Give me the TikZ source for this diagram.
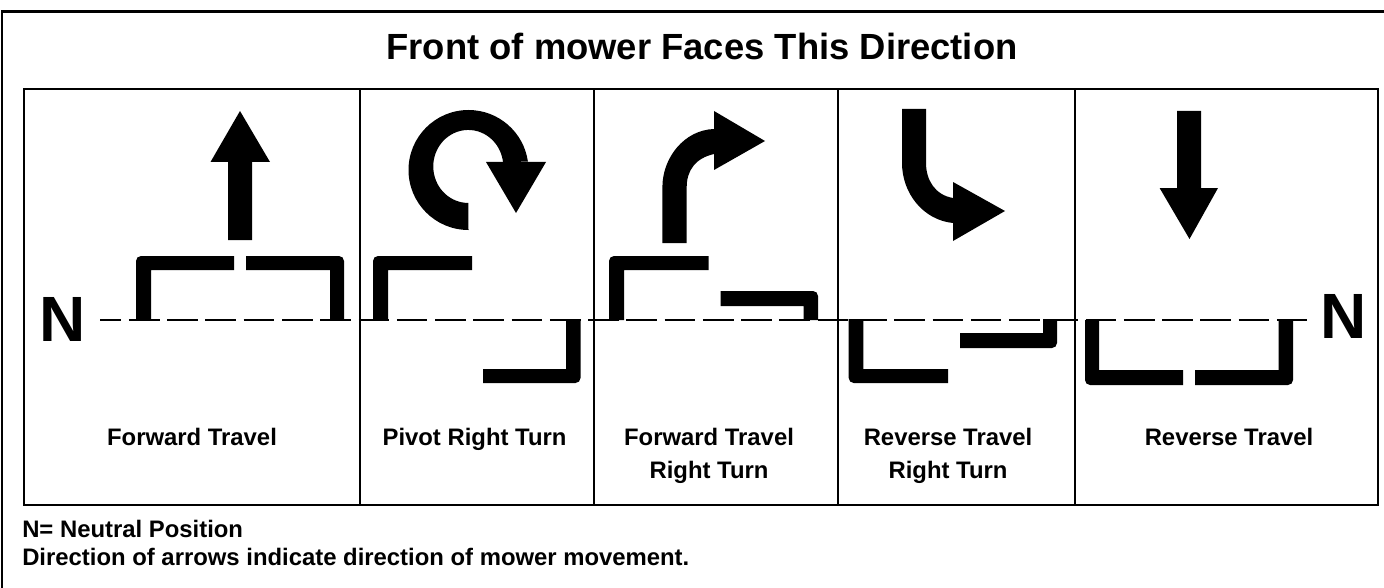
\documentclass[tikz,border=0pt]{standalone}
\usepackage{fontspec}
\setmainfont{Liberation Sans}[BoldFont={Liberation Sans Bold}]
\tikzset{
  frameline/.style={draw=black,line width=1.9pt},
  tableline/.style={draw=black,line width=1.7pt},
  cellline/.style={draw=black,line width=1.5pt},
  solid shape/.style={fill=black,draw=none},
  dashline/.style={draw=black,line width=1.5pt,dash pattern=on 23pt off 5.7pt,dash phase=7pt},
  tlabel/.style={font=\bfseries\fontsize{17.9pt}{24.75pt}\selectfont,align=center,anchor=base,inner sep=0pt},
  note/.style={font=\bfseries\fontsize{17.9pt}{21pt}\selectfont,anchor=base west,inner sep=0pt},
}
\newcommand{\brTL}[6]{% outer x, inner x, end x, outer y, inner y, far y (top-left corner)
  \fill[solid shape] (#1,#6) -- (#1,#4+5) arc[start angle=180,end angle=270,radius=5] -- (#3,#4) -- (#3,#5) -- (#2,#5) -- (#2,#6) -- cycle;}
\newcommand{\brTR}[6]{% corner top right
  \fill[solid shape] (#1,#6) -- (#1,#4+5) arc[start angle=0,end angle=-90,radius=5] -- (#3,#4) -- (#3,#5) -- (#2,#5) -- (#2,#6) -- cycle;}
\newcommand{\brBL}[6]{% corner bottom left
  \fill[solid shape] (#1,#6) -- (#1,#4-5) arc[start angle=180,end angle=90,radius=5] -- (#3,#4) -- (#3,#5) -- (#2,#5) -- (#2,#6) -- cycle;}
\newcommand{\brBR}[6]{% corner bottom right
  \fill[solid shape] (#1,#6) -- (#1,#4-5) arc[start angle=0,end angle=90,radius=5] -- (#3,#4) -- (#3,#5) -- (#2,#5) -- (#2,#6) -- cycle;}
\begin{document}
\begin{tikzpicture}[x=0.75pt,y=-0.75pt]
\useasboundingbox (0,0) rectangle (1384,588);
% frames
\draw[frameline] (2,588) -- (2,11.3) -- (1384,11.3);
\draw[tableline] (24,89) rectangle (1378,505);
\foreach \xx in {359.5,594,837.5,1074.5}{\draw[cellline] (\xx,89) -- (\xx,505);}
% title
\node[font=\bfseries\fontsize{27.3pt}{30pt}\selectfont,anchor=base,inner sep=0pt] (title) at (702,60) {Front of mower Faces This Direction};
% dashed neutral line
\coordinate (dashL) at (100,320);
\coordinate (dashR) at (1306.5,320);
\draw[dashline] (dashL) -- (dashR);
% N
\node[font=\bfseries\fontsize{48pt}{48pt}\selectfont,anchor=base,inner sep=0pt] (nl) at (62.5,341) {N};
\node[font=\bfseries\fontsize{48pt}{48pt}\selectfont,anchor=base,inner sep=0pt] (nr) at (1343.5,338) {N};
% Forward Travel
\fill[solid shape] (240,111) -- (270,162) -- (252,162) -- (252,240) -- (228,240) -- (228,162) -- (210.5,162) -- cycle;
\brTL{136}{151}{234}{256}{270}{320}
\brTR{344}{330}{246}{256}{270}{320}
% Pivot
\fill[solid shape] (468.5,230) arc[start angle=90,end angle=352,radius=60] -- (503,162) arc[start angle=353,end angle=90,x radius=35,y radius=36.5] -- cycle;
\fill[solid shape] (486,162) -- (546,162) -- (516,213) -- cycle;
\brTL{373}{388}{472}{256}{270}{320}
\brBR{580.5}{566}{483}{383}{369}{319}
% Forward right
\fill[solid shape] (662.4,243) -- (662.4,187) .. controls (662.4,158) and (684,130) .. (714,129) -- (714,111) -- (765,141) -- (714,170) -- (714,154) .. controls (696,158) and (686.7,170) .. (686.7,187) -- (686.7,243) -- cycle;
\brTL{609}{624}{708.5}{256}{270}{320}
\brTR{818}{803.7}{720.6}{291}{306}{320}
% Reverse right
\fill[solid shape] (902,109) -- (902,163) .. controls (902,193) and (923,220) .. (953,223) -- (953,241) -- (1005,211) -- (953,182) -- (953,198) .. controls (935,195) and (926,180) .. (926,163) -- (926,109) -- cycle;
\brBL{848.7}{863.4}{948}{383}{369}{319}
\brBR{1057}{1043}{960}{348}{333}{319}
% Reverse
\fill[solid shape] (1189.5,239) -- (1218,188) -- (1201,188) -- (1201,111) -- (1177,111) -- (1177,188) -- (1159.6,188) -- cycle;
\brBL{1085}{1099}{1183}{385}{370}{320}
\brBR{1293}{1278.6}{1195}{385}{370}{320}
% labels
\node[tlabel] (l1) at (192,445) {Forward Travel};
\node[tlabel] (l2) at (474.5,445) {Pivot Right Turn};
\node[tlabel] (l3) at (709,478) {Forward Travel\\Right Turn};
\node[tlabel] (l4) at (948,478) {Reverse Travel\\Right Turn};
\node[tlabel] (l5) at (1229,445) {Reverse Travel};
\node[note] (n1) at (22,537) {N= Neutral Position};
\node[note] (n2) at (22,565) {Direction of arrows indicate direction of mower movement.};
\end{tikzpicture}
\end{document}
